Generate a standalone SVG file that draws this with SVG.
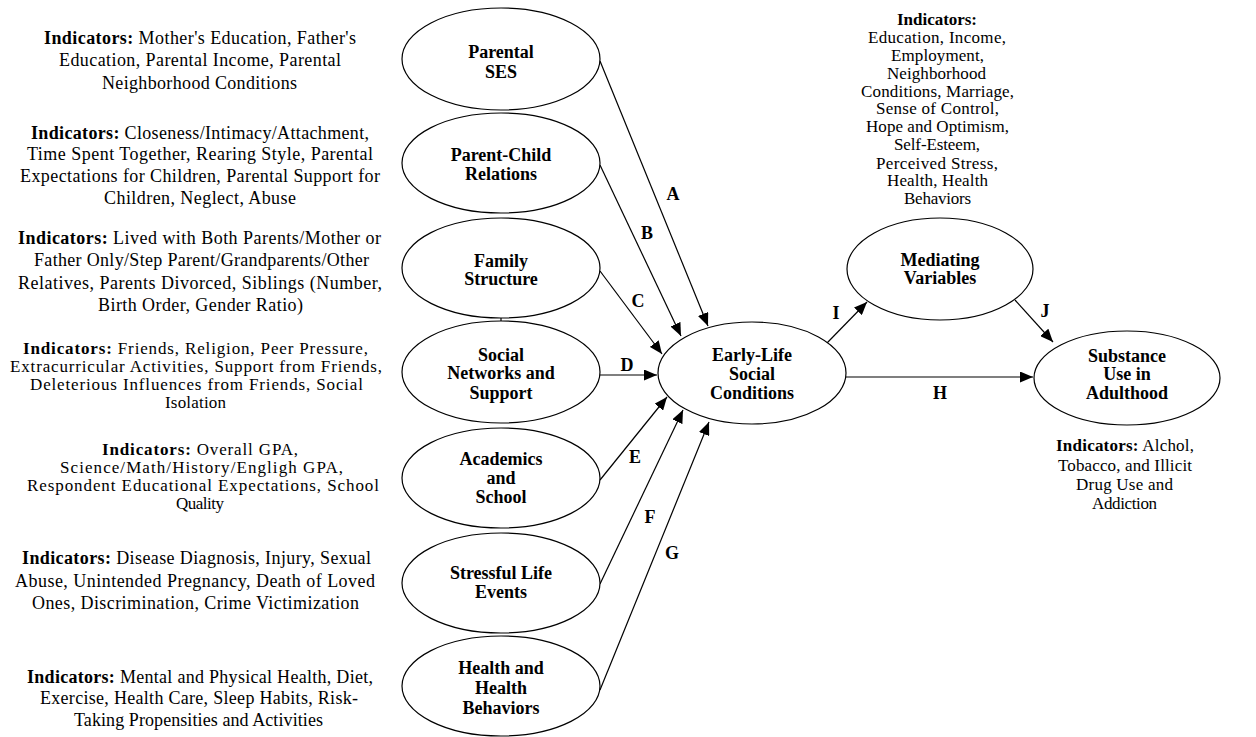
<svg xmlns="http://www.w3.org/2000/svg" width="1256" height="737" viewBox="0 0 1256 737">
<style>
text{font-family:"Liberation Serif","Times New Roman",serif;fill:#000}
.ind{font-size:18px}
.ind2{font-size:17px}
.tight{font-size:17px}
.b{font-weight:bold}
.node{font-size:18px;font-weight:bold;text-anchor:middle}
.lbl{font-size:18px;font-weight:bold;text-anchor:middle}
ellipse{fill:#fff;stroke:#000;stroke-width:1.2}
.con line{stroke:#000;stroke-width:1.2;marker-end:url(#ah)}
</style>
<defs>
<marker id="ah" markerUnits="userSpaceOnUse" markerWidth="13" markerHeight="11" refX="13" refY="5.5" orient="auto">
<path d="M0,0 L13,5.5 L0,11 Z" fill="#000"/>
</marker>
</defs>
<rect width="1256" height="737" fill="#fff"/>

<g id="indicators-left" class="ind">
<text x="44" y="44" textLength="312" lengthAdjust="spacing"><tspan class="b">Indicators:</tspan> Mother's Education, Father's</text>
<text x="59" y="66" textLength="282" lengthAdjust="spacing">Education, Parental Income, Parental</text>
<text x="102" y="89" textLength="195" lengthAdjust="spacing">Neighborhood Conditions</text>

<text x="31" y="139" textLength="338" lengthAdjust="spacing"><tspan class="b">Indicators:</tspan> Closeness/Intimacy/Attachment,</text>
<text x="27" y="160" textLength="346" lengthAdjust="spacing">Time Spent Together, Rearing Style, Parental</text>
<text x="20" y="182" textLength="360" lengthAdjust="spacing">Expectations for Children, Parental Support for</text>
<text x="104" y="204" textLength="192" lengthAdjust="spacing">Children, Neglect, Abuse</text>

<text x="18" y="244" textLength="363" lengthAdjust="spacing"><tspan class="b">Indicators:</tspan> Lived with Both Parents/Mother or</text>
<text x="34" y="266" textLength="335" lengthAdjust="spacing">Father Only/Step Parent/Grandparents/Other</text>
<text x="18" y="289" textLength="364" lengthAdjust="spacing">Relatives, Parents Divorced, Siblings (Number,</text>
<text x="98" y="311" textLength="205" lengthAdjust="spacing">Birth Order, Gender Ratio)</text>

<g class="tight">
<text x="23" y="354" textLength="345" lengthAdjust="spacing"><tspan class="b">Indicators:</tspan> Friends, Religion, Peer Pressure,</text>
<text x="10" y="372" textLength="372" lengthAdjust="spacing">Extracurricular Activities, Support from Friends,</text>
<text x="30" y="390" textLength="333" lengthAdjust="spacing">Deleterious Influences from Friends, Social</text>
<text x="165" y="408" textLength="61" lengthAdjust="spacing">Isolation</text>

<text x="102" y="455" textLength="196" lengthAdjust="spacing"><tspan class="b">Indicators:</tspan> Overall GPA,</text>
<text x="60" y="473" textLength="283" lengthAdjust="spacing">Science/Math/History/Engligh GPA,</text>
<text x="27" y="491" textLength="352" lengthAdjust="spacing">Respondent Educational Expectations, School</text>
<text x="176" y="509" textLength="48" lengthAdjust="spacing">Quality</text>
</g>

<text x="22" y="564" textLength="349" lengthAdjust="spacing"><tspan class="b">Indicators:</tspan> Disease Diagnosis, Injury, Sexual</text>
<text x="15" y="587" textLength="360" lengthAdjust="spacing">Abuse, Unintended Pregnancy, Death of Loved</text>
<text x="32" y="609" textLength="327" lengthAdjust="spacing">Ones, Discrimination, Crime Victimization</text>

<text x="27" y="683" textLength="346" lengthAdjust="spacing"><tspan class="b">Indicators:</tspan> Mental and Physical Health, Diet,</text>
<text x="40" y="704" textLength="318" lengthAdjust="spacing">Exercise, Health Care, Sleep Habits, Risk-</text>
<text x="74" y="726" textLength="249" lengthAdjust="spacing">Taking Propensities and Activities</text>
</g>

<g id="indicators-mediating" class="ind2">
<text x="897" y="25" textLength="80" lengthAdjust="spacing" class="b">Indicators:</text>
<text x="868" y="43" textLength="138" lengthAdjust="spacing">Education, Income,</text>
<text x="891" y="61" textLength="93" lengthAdjust="spacing">Employment,</text>
<text x="887" y="79" textLength="99" lengthAdjust="spacing">Neighborhood</text>
<text x="861" y="97" textLength="153" lengthAdjust="spacing">Conditions, Marriage,</text>
<text x="876" y="114" textLength="123" lengthAdjust="spacing">Sense of Control,</text>
<text x="866" y="132" textLength="143" lengthAdjust="spacing">Hope and Optimism,</text>
<text x="894" y="150" textLength="86" lengthAdjust="spacing">Self-Esteem,</text>
<text x="876" y="169" textLength="122" lengthAdjust="spacing">Perceived Stress,</text>
<text x="887" y="186" textLength="101" lengthAdjust="spacing">Health, Health</text>
<text x="904" y="204" textLength="67" lengthAdjust="spacing">Behaviors</text>
</g>

<g id="indicators-outcome" class="ind2">
<text x="1056" y="451" textLength="138" lengthAdjust="spacing"><tspan class="b">Indicators:</tspan> Alchol,</text>
<text x="1058" y="471" textLength="134" lengthAdjust="spacing">Tobacco, and Illicit</text>
<text x="1076" y="490" textLength="97" lengthAdjust="spacing">Drug Use and</text>
<text x="1092" y="509" textLength="65" lengthAdjust="spacing">Addiction</text>
</g>

<g id="connectors" class="con">
<line x1="600" y1="61" x2="708" y2="326"/>
<line x1="600" y1="165" x2="681" y2="336"/>
<line x1="600" y1="271" x2="662" y2="354"/>
<line x1="600" y1="375" x2="657" y2="375"/>
<line x1="600" y1="480" x2="667" y2="397"/>
<line x1="600" y1="584" x2="683" y2="410"/>
<line x1="600" y1="690" x2="709" y2="422"/>
<line x1="827" y1="343" x2="867" y2="302"/>
<line x1="1015" y1="300" x2="1053" y2="342"/>
<line x1="846" y1="377" x2="1033" y2="377"/>
<path d="M501,318 L501,322" stroke="#000" stroke-width="1.2" fill="none"/>
</g>

<g id="connector-labels" class="lbl">
<text x="673" y="200">A</text>
<text x="647" y="239">B</text>
<text x="638" y="307">C</text>
<text x="627" y="371">D</text>
<text x="635" y="463">E</text>
<text x="650" y="523">F</text>
<text x="672" y="559">G</text>
<text x="836" y="319">I</text>
<text x="1045" y="317">J</text>
<text x="940" y="399">H</text>
</g>

<g id="parental-ses">
<ellipse cx="501" cy="59" rx="99" ry="51"/>
<text class="node" x="501" y="58">Parental</text>
<text class="node" x="501" y="78">SES</text>
</g>
<g id="parent-child">
<ellipse cx="501" cy="163" rx="99" ry="50"/>
<text class="node" x="501" y="161">Parent-Child</text>
<text class="node" x="501" y="180">Relations</text>
</g>
<g id="family-structure">
<ellipse cx="501" cy="268" rx="99" ry="50"/>
<text class="node" x="501" y="267">Family</text>
<text class="node" x="501" y="285">Structure</text>
</g>
<g id="social-networks">
<ellipse cx="501" cy="372" rx="99" ry="51"/>
<text class="node" x="501" y="361">Social</text>
<text class="node" x="501" y="379">Networks and</text>
<text class="node" x="501" y="399">Support</text>
</g>
<g id="academics">
<ellipse cx="501" cy="478" rx="99" ry="50"/>
<text class="node" x="501" y="465">Academics</text>
<text class="node" x="501" y="484">and</text>
<text class="node" x="501" y="503">School</text>
</g>
<g id="stressful-events">
<ellipse cx="501" cy="583" rx="99" ry="50"/>
<text class="node" x="501" y="579">Stressful Life</text>
<text class="node" x="501" y="598">Events</text>
</g>
<g id="health-behaviors">
<ellipse cx="501" cy="686" rx="99" ry="50"/>
<text class="node" x="501" y="674">Health and</text>
<text class="node" x="501" y="694">Health</text>
<text class="node" x="501" y="714">Behaviors</text>
</g>
<g id="early-life">
<ellipse cx="752" cy="373" rx="94" ry="51"/>
<text class="node" x="752" y="361">Early-Life</text>
<text class="node" x="752" y="380">Social</text>
<text class="node" x="752" y="399">Conditions</text>
</g>
<g id="mediating">
<ellipse cx="940" cy="269" rx="93" ry="51"/>
<text class="node" x="940" y="266">Mediating</text>
<text class="node" x="940" y="284">Variables</text>
</g>
<g id="substance-use">
<ellipse cx="1127" cy="378" rx="93" ry="47"/>
<text class="node" x="1127" y="362">Substance</text>
<text class="node" x="1127" y="380">Use in</text>
<text class="node" x="1127" y="399">Adulthood</text>
</g>
</svg>
